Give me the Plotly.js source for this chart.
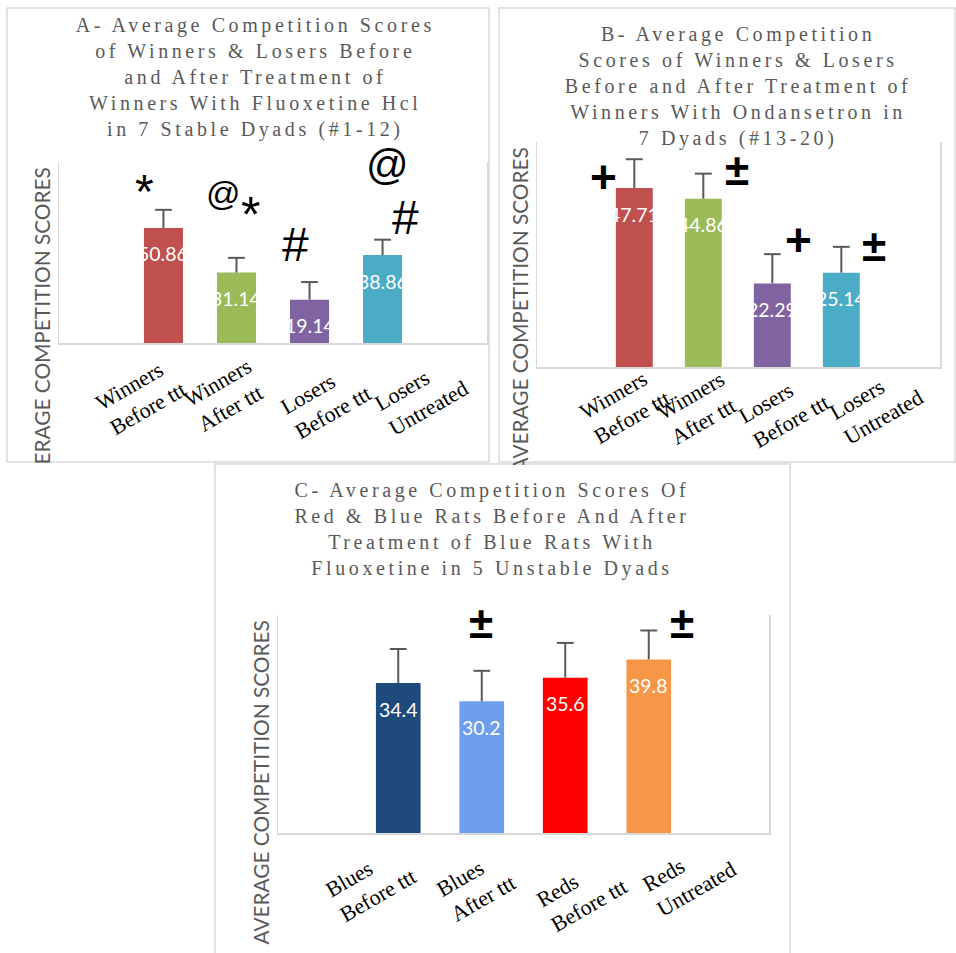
<!DOCTYPE html>
<html><head><meta charset="utf-8">
<script src="https://cdn.plot.ly/plotly-3.0.1.min.js"></script>
<style>
html,body{margin:0;padding:0;background:#fff;}
#chart{width:956px;height:953px;}
g.annotation[data-index="0"] text, g.annotation[data-index="1"] text, g.annotation[data-index="2"] text{letter-spacing:3.6px;}
</style></head><body><div id="chart"></div>
<script>
// ---------- data ----------
const groupsA = ['Winners','Winners','Losers','Losers'];
const statesA = ['Before ttt','After ttt','Before ttt','Untreated'];
const valuesA = [50.86, 31.14, 19.14, 38.86];
const errorsA = [8.0, 6.5, 7.8, 6.8];

const groupsB = ['Winners','Winners','Losers','Losers'];
const statesB = ['Before ttt','After ttt','Before ttt','Untreated'];
const valuesB = [47.71, 44.86, 22.29, 25.14];
const errorsB = [7.7, 6.7, 7.8, 6.9];

const groupsC = ['Blues','Blues','Reds','Reds'];
const statesC = ['Before ttt','After ttt','Before ttt','Untreated'];
const valuesC = [34.4, 30.2, 35.6, 39.8];
const errorsC = [7.8, 7.0, 8.0, 6.65];

const titleA = 'A- Average Competition Scores<br>of Winners & Losers Before<br>and After Treatment of<br>Winners With Fluoxetine Hcl<br>in 7 Stable Dyads (#1-12)';
const titleB = 'B- Average Competition<br>Scores of Winners & Losers<br>Before and After Treatment of<br>Winners With Ondansetron in<br>7 Dyads (#13-20)';
const titleC = 'C- Average Competition Scores Of<br>Red & Blue Rats Before And After<br>Treatment of Blue Rats With<br>Fluoxetine in 5 Unstable Dyads';
const yTitle = 'AVERAGE COMPETITION SCORES';

// ---------- styles / layout ----------
const W = 956, H = 953;
const px = x => x / W;
const py = y => 1 - y / H;
const colorsAB = ['#C0504D','#9BBB59','#8064A2','#4BACC6'];
const colorsC = ['#1F4A7C','#6D9EEB','#FF0000','#F79646'];
const frame = '#d9d9d9';
const errColor = '#595959';

const cats = (g, s) => g.map((v, i) => v + ' ' + s[i]);
const catsA = cats(groupsA, statesA), catsB = cats(groupsB, statesB), catsC = cats(groupsC, statesC);

function barTrace(x, y, err, colors, xa, ya) {
  return {type:'bar', x:x, y:y, xaxis:xa, yaxis:ya,
    marker:{color:colors, line:{width:0}},
    error_y:{type:'data', array:err, arrayminus:err.map(()=>0), symmetric:false,
             color:errColor, thickness:2, width:0},
    hoverinfo:'none'};
}
// caps at the upper end of each error bar
function capTrace(x, y, err, xa, ya) {
  return {type:'scatter', mode:'markers', x:x, y:y.map((v, i) => v + err[i]), xaxis:xa, yaxis:ya,
    marker:{symbol:'line-ew', size:12, color:errColor, line:{width:2, color:errColor}},
    hoverinfo:'none', cliponaxis:false};
}
function axX(d, r, anchor) {
  return {type:'category', domain:[px(d[0]), px(d[1])], range:r, anchor:anchor,
    showticklabels:false, ticks:'', showgrid:false, zeroline:false,
    showline:true, linecolor:frame, linewidth:1.5, fixedrange:true};
}
function axY(d, r, anchor) {
  return {domain:[py(d[0]), py(d[1])], range:r, anchor:anchor,
    showticklabels:false, ticks:'', showgrid:false, zeroline:false,
    showline:true, mirror:true, linecolor:frame, linewidth:1.5, fixedrange:true};
}

const ann = [];
// titles (indices 0..2)
const titleFont = {family:'Liberation Serif, Times New Roman, serif', size:20, color:'#595959'};
ann.push({xref:'paper', yref:'paper', x:px(255), y:py(77), text:titleA, showarrow:false, align:'center', xanchor:'center', yanchor:'middle', font:titleFont});
ann.push({xref:'paper', yref:'paper', x:px(738), y:py(86), text:titleB, showarrow:false, align:'center', xanchor:'center', yanchor:'middle', font:titleFont});
ann.push({xref:'paper', yref:'paper', x:px(492), y:py(529.5), text:titleC, showarrow:false, align:'center', xanchor:'center', yanchor:'middle', font:titleFont});
// y titles (indices 3..5)
const yFont = {family:'Lato, sans-serif', size:20.8, color:'#595959'};
[[41,329.5],[519,309.5],[260,782.5]].forEach(p => ann.push({xref:'paper', yref:'paper', x:px(p[0]), y:py(p[1]), text:yTitle, textangle:-90, showarrow:false, xanchor:'center', yanchor:'middle', font:yFont}));
// white covers clipping the y titles at panel edges
ann.push({xref:'paper', yref:'paper', x:px(41), y:py(480), width:40, height:33, text:'\u00a0', bgcolor:'#fff', borderpad:0, borderwidth:0, showarrow:false, xanchor:'center', yanchor:'middle'});
ann.push({xref:'paper', yref:'paper', x:px(519), y:py(472), width:32, height:14, text:'\u00a0', bgcolor:'#fff', borderpad:0, borderwidth:0, showarrow:false, xanchor:'center', yanchor:'middle'});

// data labels
const dlFont = {family:'Lato, sans-serif', size:19.5, color:'#ffffff'};
function dataLabels(x, y, xr, yr) {
  x.forEach((c, i) => ann.push({xref:xr, yref:yr, x:c, y:y[i], text:String(y[i]), showarrow:false, xanchor:'center', yanchor:'middle', yshift:-26, font:dlFont}));
}
dataLabels(catsA, valuesA, 'x', 'y');
dataLabels(catsB, valuesB, 'x2', 'y2');
dataLabels(catsC, valuesC, 'x3', 'y3');

// category labels (rotated text boxes)
const tlFont = {family:'Liberation Serif, Times New Roman, serif', size:22, color:'#000'};
const labelPosA = [[141,396],[225,395],[326,400],[421,396]];
const labelPosB = [[625,405],[698,408],[784,409],[876,405]];
const labelPosC = [[371,883],[476,886],[582,893],[689,877]];
function tickLabels(g, s, pos) {
  g.forEach((v, i) => ann.push({xref:'paper', yref:'paper', x:px(pos[i][0]), y:py(pos[i][1]), text:v + '<br>' + s[i], textangle:-30, align:'left', showarrow:false, xanchor:'center', yanchor:'middle', font:tlFont}));
}
tickLabels(groupsA, statesA, labelPosA);
tickLabels(groupsB, statesB, labelPosB);
tickLabels(groupsC, statesC, labelPosC);

// significance marks
const symFam = 'Liberation Sans, Arial, sans-serif';
function sym(t, cx, cy, size, bold, dy) {
  ann.push({xref:'paper', yref:'paper', x:px(cx), y:py(cy + dy * size), text:bold ? '<b>' + t + '</b>' : t, showarrow:false, xanchor:'center', yanchor:'middle', font:{family:symFam, size:size, color:'#000'}});
}
sym('*', 144, 180, 48, false, 0.235);
sym('@', 223, 196, 34, false, -0.08);
sym('*', 250, 203, 50, false, 0.235);
sym('#', 295.5, 245, 48, false, 0);
sym('@', 387, 168, 42, false, -0.08);
sym('#', 405, 217.5, 48, false, 0);
sym('+', 603, 177, 46, true, 0);
sym('±', 737, 169, 44, true, 0);
sym('+', 798, 240, 46, true, 0);
sym('±', 874, 246, 44, true, 0);
sym('±', 481, 622, 44, true, 0);
sym('±', 682, 622, 44, true, 0);

// panel borders
function box(x0, y0, x1, y1) {
  return {type:'rect', xref:'paper', yref:'paper', x0:px(x0), x1:px(x1), y0:py(y1), y1:py(y0), line:{color:frame, width:1.5}, fillcolor:'rgba(0,0,0,0)', layer:'below'};
}
const shapes = [box(7,8,489,462), box(499,8,955,462), box(215,464,790,975)];

const data = [
  barTrace(catsA, valuesA, errorsA, colorsAB, 'x', 'y'),
  barTrace(catsB, valuesB, errorsB, colorsAB, 'x2', 'y2'),
  barTrace(catsC, valuesC, errorsC, colorsC, 'x3', 'y3'),
  capTrace(catsA, valuesA, errorsA, 'x', 'y'),
  capTrace(catsB, valuesB, errorsB, 'x2', 'y2'),
  capTrace(catsC, valuesC, errorsC, 'x3', 'y3')
];

const layout = {
  width:W, height:H, margin:{l:0, r:0, t:0, b:0},
  paper_bgcolor:'#ffffff', plot_bgcolor:'rgba(0,0,0,0)',
  showlegend:false, bargap:0.465,
  xaxis:axX([59,487], [-1.43,4.43], 'y'),   yaxis:axY([343,162], [0,80], 'x'),
  xaxis2:axX([537,940], [-1.41,4.43], 'y2'), yaxis2:axY([367,142], [0,60], 'x2'),
  xaxis3:axX([278,769], [-1.44,4.44], 'y3'), yaxis3:axY([833,615], [0,50], 'x3'),
  annotations:ann, shapes:shapes
};

Plotly.newPlot('chart', data, layout, {staticPlot:true, displayModeBar:false});
</script></body></html>
